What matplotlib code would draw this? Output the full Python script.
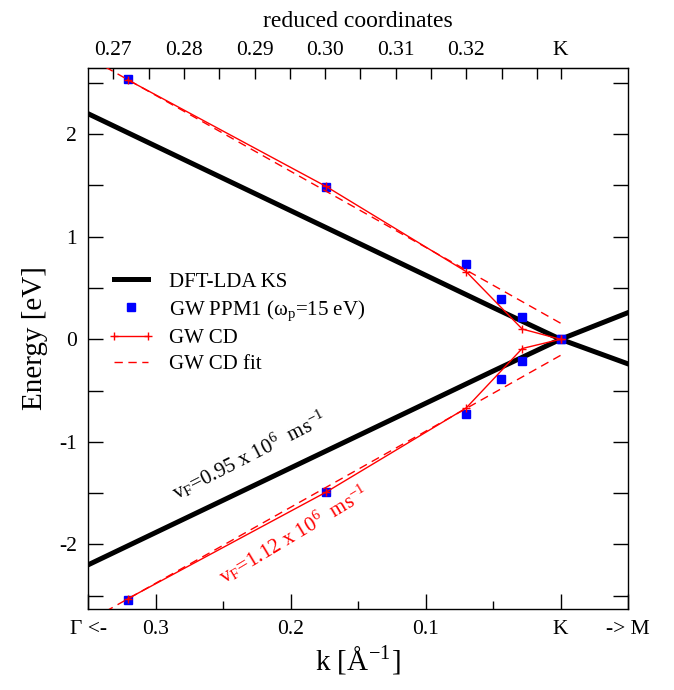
import numpy as np
import matplotlib
matplotlib.use("Agg")
import matplotlib.pyplot as plt
from matplotlib.legend_handler import HandlerLine2D

# distance from K along Gamma-K (positive) and K-M (negative), in 1/Angstrom
K_LDA = [0.35, 0.25, 0.15, 0.05, 0.0, -0.05]
E_LDA_UP = [2.2, 1.57, 0.94, 0.31, 0.0, -0.24]
E_LDA_DN = [-2.2, -1.57, -0.94, -0.31, 0.0, 0.26]

K_PPM = [0.3206, 0.1736, 0.0699, 0.0439, 0.0284, 0.0]
E_PPM_UP = [2.54, 1.487, 0.735, 0.39, 0.215, 0.0]
E_PPM_DN = [-2.54, -1.49, -0.73, -0.39, -0.215, 0.0]

K_CD = [0.3206, 0.1736, 0.0699, 0.0284, 0.0]
E_CD_UP = [2.53, 1.49, 0.66, 0.10, 0.0]
E_CD_DN = [-2.53, -1.49, -0.67, -0.09, 0.0]

K_FIT = [0.0, 0.35]
E_FIT_UP = [0.157, 2.75]
E_FIT_DN = [-0.157, -2.75]

# top axis: reduced coordinates, 1/Angstrom per reduced unit
RED_SCALE = 5.23
RED_TICKS = [0.27, 0.28, 0.29, 0.30, 0.31, 0.32, 1 / 3]
RED_LABELS = ["0.27", "0.28", "0.29", "0.30", "0.31", "0.32", "K"]
RED_MINOR = [0.275, 0.285, 0.295, 0.305, 0.315, 0.325, 0.33]

BOT_TICKS = [0.35, 0.3, 0.2, 0.1, 0.0, -0.05]
BOT_LABELS = ["\u0393 <-", "0.3", "0.2", "0.1", "K", "-> M"]

plt.rcParams["font.family"] = ["Liberation Serif", "DejaVu Serif"]
plt.rcParams["mathtext.fontset"] = "stix"
plt.rcParams["axes.unicode_minus"] = False

fig = plt.figure(figsize=(6.74, 6.90), dpi=100)
ax = fig.add_axes([0.1306, 0.1174, 0.8012, 0.784])

ax.plot(K_LDA, E_LDA_UP, color="black", lw=3.6, zorder=2, label="DFT-LDA KS")
ax.plot(K_LDA, E_LDA_DN, color="black", lw=3.6, zorder=2)

ppm, = ax.plot(K_PPM, E_PPM_UP, ls="none", marker="s", ms=6, color="blue",
               zorder=3, label="GW PPM1 ($\\mathregular{\\omega_p}$=15 eV)")
ax.plot(K_PPM, E_PPM_DN, ls="none", marker="s", ms=6, color="blue", zorder=3)

ax.plot(K_CD, E_CD_UP, color="red", lw=1.0, marker="+", ms=6, mew=1.0,
        zorder=4, label="GW CD")
ax.plot(K_CD, E_CD_DN, color="red", lw=1.0, marker="+", ms=6, mew=1.0, zorder=4)

ax.plot(K_FIT, E_FIT_UP, color="red", lw=1.0, dashes=(6, 4), zorder=4,
        label="GW CD fit")
ax.plot(K_FIT, E_FIT_DN, color="red", lw=1.0, dashes=(6, 4), zorder=4)

ax.set_xlim(0.35, -0.05)
ax.set_ylim(-2.63, 2.645)

ax.set_xticks(BOT_TICKS)
ax.set_xticklabels(BOT_LABELS)
ax.set_xticks([0.25, 0.15, 0.05], minor=True)
ax.set_yticks([-2, -1, 0, 1, 2])
ax.set_yticks([-2.5, -1.5, -0.5, 0.5, 1.5, 2.5], minor=True)
ax.tick_params(axis="both", which="major", direction="in", length=11,
               width=1.0, labelsize=15.5, pad=8)
ax.tick_params(axis="both", which="minor", direction="in", length=6, width=1.0)
ax.tick_params(axis="y", which="both", right=True)
ax.tick_params(axis="y", which="both", length=11)
for s in ax.spines.values():
    s.set_linewidth(1.0)

ax.set_xlabel("k [\u00c5$^{\\mathregular{-1}}$]", fontsize=21, labelpad=4)
ax.set_ylabel("Energy [eV]", fontsize=21, labelpad=8)

top = ax.secondary_xaxis("top", functions=(lambda k: 1 / 3 - k / RED_SCALE,
                                           lambda r: (1 / 3 - r) * RED_SCALE))
top.set_xticks(RED_TICKS)
top.set_xticklabels(RED_LABELS)
top.set_xticks(RED_MINOR, minor=True)
top.tick_params(which="both", direction="in", length=8, width=1.0,
                labelsize=15.5, pad=6)
top.set_xlabel("reduced coordinates", fontsize=17, labelpad=10)

ax.text(0.284, -1.57, "v$_\\mathregular{F}$=0.95 x 10$^\\mathregular{6}$  ms$^\\mathregular{-1}$",
        rotation=27, rotation_mode="anchor", fontsize=15, color="black")
ax.text(0.249, -2.39, "v$_\\mathregular{F}$=1.12 x 10$^\\mathregular{6}$  ms$^\\mathregular{-1}$",
        rotation=31, rotation_mode="anchor", fontsize=15, color="red")

ax.legend(loc="upper left", bbox_to_anchor=(0.022, 0.638), frameon=False,
          fontsize=15, handlelength=2.2, handletextpad=0.7, labelspacing=0.3,
          borderaxespad=0, numpoints=2,
          handler_map={ppm: HandlerLine2D(numpoints=1)})

fig.savefig("out.png", dpi=100)
